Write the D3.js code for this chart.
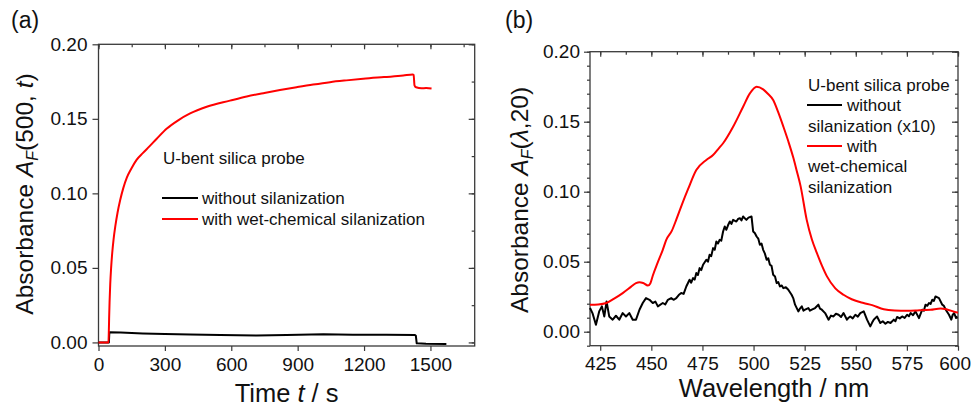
<!DOCTYPE html>
<html>
<head>
<meta charset="utf-8">
<script src="https://cdn.jsdelivr.net/npm/d3@7"></script>
<style>
  body { margin: 0; background: #fff; }
  svg text { font-family: "Liberation Sans", Arial, sans-serif; fill: #111; }
</style>
</head>
<body>
<svg id="chart" width="971" height="409"></svg>
<script>
// ---- Panel (a): absorbance at 500 nm versus time ----
const timeTicks = [0, 300, 600, 900, 1200, 1500];
const timeMinorTicks = d3.range(0, 1700, 150);
const absTicksA = [0, 0.05, 0.10, 0.15, 0.20];
const absMinorTicksA = d3.range(0, 0.2001, 0.025);

// [time (s), absorbance]
const kineticsWithSilane = [
  [0, 0], [45, 0], [46.5, 0.006], [48, 0.016], [50, 0.027], [53, 0.039], [57, 0.05],
  [62, 0.06], [68, 0.069], [76, 0.078], [86, 0.087], [98, 0.0955], [112, 0.1035],
  [128, 0.1105], [148, 0.1165], [172, 0.1225], [200, 0.127], [230, 0.1315],
  [262, 0.1365], [309, 0.1435], [360, 0.149], [414, 0.1536], [489, 0.1581],
  [594, 0.1622], [670, 0.165], [745, 0.1672], [820, 0.1693], [895, 0.1712],
  [970, 0.173], [1046, 0.1746], [1120, 0.1758], [1196, 0.1769], [1290, 0.178],
  [1377, 0.179], [1420, 0.1798], [1424, 0.1795], [1428, 0.1725], [1435, 0.1712],
  [1460, 0.1705], [1480, 0.1706], [1505, 0.1703]
];
const kineticsWithoutSilane = [
  [0, 0], [47, 0], [49, 0.0068], [100, 0.0066], [200, 0.006], [300, 0.0056],
  [414, 0.0053], [550, 0.005], [715, 0.0047], [850, 0.005], [1016, 0.0054],
  [1150, 0.0051], [1300, 0.0051], [1430, 0.005], [1434, 0.0045], [1438, -0.0006],
  [1480, -0.0009], [1572, -0.0011]
];

// ---- Panel (b): absorbance spectra after 20 s ----
const wavelengthTicks = [425, 450, 475, 500, 525, 550, 575, 600];
const wavelengthMinorTicks = d3.range(425, 600.1, 12.5);
const absTicksB = [0, 0.05, 0.10, 0.15, 0.20];
const absMinorTicksB = d3.range(-0.01, 0.2001, 0.01);

// [wavelength (nm), absorbance]
const spectrumWithSilane = [
  [420, 0.0193], [424, 0.0195], [428, 0.0205], [432, 0.0238], [436, 0.0276],
  [440, 0.032], [442.5, 0.0347], [444.2, 0.0354], [446, 0.0348], [448.3, 0.033],
  [449.5, 0.0345], [450.7, 0.0400], [453, 0.049], [455.6, 0.0585], [457.3, 0.0656],
  [460, 0.072], [462.2, 0.080], [465, 0.091], [468, 0.102], [472, 0.1155],
  [476.9, 0.1227], [480.2, 0.1262], [483, 0.131], [485.1, 0.1346], [490, 0.1464],
  [494.9, 0.1607], [498.2, 0.1702], [501.5, 0.175], [504.7, 0.1731], [507, 0.170],
  [509.6, 0.1655], [512, 0.157], [514.6, 0.1464], [517, 0.136], [519.5, 0.124],
  [521.1, 0.115], [523, 0.104], [526, 0.0799], [528.5, 0.066], [531, 0.0561],
  [533.5, 0.047], [535.9, 0.0395], [540, 0.031], [544, 0.0264], [548, 0.0232],
  [553.8, 0.0205], [558, 0.019], [563.7, 0.016], [569, 0.0152], [575.2, 0.015],
  [580, 0.0152], [586.6, 0.0157], [591.5, 0.0166], [595, 0.0157], [599.7, 0.0138],
  [600, 0.0138]
];
const spectrumWithoutSilane = [
  [420, 0.0169], [421.2, 0.0133], [422.9, 0.0050], [424.5, 0.0145], [425.8, 0.0181],
  [427.0, 0.0109], [428.1, 0.0216], [429.4, 0.0109], [431.1, 0.0086], [432.7, 0.0114],
  [434.3, 0.0086], [436.0, 0.0133], [437.6, 0.0109], [439.2, 0.0133], [440.9, 0.0086],
  [442.5, 0.0086], [444.2, 0.0157], [445.8, 0.0205], [447.4, 0.0240], [449.1, 0.0228],
  [450.7, 0.0205], [452.0, 0.0215], [453.2, 0.0181], [455.6, 0.0205], [456.8, 0.0195],
  [458.1, 0.0228], [459.7, 0.0240], [461.0, 0.0228], [462.2, 0.0240], [463.4, 0.0262],
  [464.6, 0.0276], [465.8, 0.0270], [467.1, 0.0323], [468.7, 0.0371], [469.5, 0.0350],
  [470.4, 0.0383], [471.2, 0.0372], [472.0, 0.0419], [472.8, 0.0405], [473.6, 0.0454],
  [474.4, 0.0440], [475.3, 0.0478], [476.9, 0.0514], [477.7, 0.0500], [478.5, 0.0549],
  [479.3, 0.0540], [480.2, 0.0597], [481.0, 0.0585], [481.8, 0.0644], [482.6, 0.0630],
  [483.4, 0.0656], [484.2, 0.0650], [485.1, 0.0716], [485.9, 0.0751], [486.7, 0.0728],
  [487.5, 0.0760], [488.4, 0.0787], [489.2, 0.0770], [490.0, 0.0799], [491.6, 0.0787],
  [492.4, 0.0805], [493.3, 0.0811], [494.1, 0.0795], [494.9, 0.0823], [495.7, 0.0810],
  [496.5, 0.0799], [497.5, 0.0815], [499.0, 0.0823], [499.8, 0.0716], [500.6, 0.0705],
  [501.5, 0.0680], [502.3, 0.0665], [503.1, 0.0621], [503.9, 0.0630], [504.7, 0.0585],
  [505.5, 0.0560], [506.4, 0.0514], [507.2, 0.0525], [508.0, 0.0478], [508.8, 0.0470],
  [509.6, 0.0407], [510.5, 0.0395], [511.3, 0.0347], [512.1, 0.0355], [512.9, 0.0323],
  [513.8, 0.0330], [514.6, 0.0311], [515.8, 0.0318], [517.0, 0.0300], [518.6, 0.0264],
  [519.4, 0.0240], [520.3, 0.0193], [521.9, 0.0145], [522.7, 0.0165], [523.6, 0.0181],
  [524.4, 0.0150], [525.2, 0.0157], [526.8, 0.0169], [527.6, 0.0150], [528.5, 0.0157],
  [530.1, 0.0169], [531.7, 0.0193], [532.5, 0.0165], [533.4, 0.0157], [535.0, 0.0133],
  [536.7, 0.0086], [537.9, 0.0115], [539.1, 0.0109], [540.3, 0.0128], [541.6, 0.0121],
  [542.8, 0.0105], [544.0, 0.0133], [545.7, 0.0086], [546.5, 0.0100], [547.3, 0.0109],
  [548.5, 0.0095], [549.8, 0.0121], [551.0, 0.0108], [552.2, 0.0133], [553.9, 0.0145],
  [555.5, 0.0086], [557.1, 0.0038], [558.0, 0.0065], [558.8, 0.0086], [560.4, 0.0109],
  [561.2, 0.0085], [562.0, 0.0062], [563.2, 0.0075], [564.5, 0.0057], [565.7, 0.0070],
  [567.0, 0.0062], [568.6, 0.0086], [569.4, 0.0075], [570.2, 0.0105], [571.5, 0.0095],
  [572.7, 0.0109], [573.9, 0.0098], [575.1, 0.0121], [576.0, 0.0110], [576.8, 0.0133],
  [578.0, 0.0118], [579.2, 0.0145], [580.9, 0.0097], [582.5, 0.0157], [583.3, 0.0150],
  [584.1, 0.0193], [585.0, 0.0185], [585.8, 0.0205], [586.6, 0.0198], [587.4, 0.0228],
  [588.2, 0.0220], [589.0, 0.0252], [590.7, 0.0240], [592.3, 0.0193], [593.1, 0.0185],
  [594.0, 0.0157], [595.6, 0.0121], [596.7, 0.0086], [597.4, 0.0120], [598.1, 0.0133],
  [599.0, 0.0100], [599.7, 0.0109]
];

const RED = "#ff0000", BLACK = "#000000", FRAME = "#3a3a3a";
const svg = d3.select("#chart");

// Draws a boxed panel: outward major ticks on left/bottom, inward ticks on top/right.
function framedPanel(opt) {
  const { x, y, xTicks, xMinor, yTicks, yLeftMinor, yRightMinor, xFmt, yFmt } = opt;
  const [x0, x1] = x.range(), [y0, y1] = y.range(); // y0 bottom, y1 top
  const g = svg.append("g");
  const style = sel => {
    sel.select(".domain").remove();
    sel.selectAll("line").attr("stroke", FRAME).attr("stroke-width", 1.2);
    sel.selectAll("text").attr("font-size", 19).attr("fill", "#111");
  };
  const bottom = g.append("g").attr("transform", `translate(0,${y0})`)
    .call(d3.axisBottom(x).tickValues(xTicks).tickFormat(xFmt).tickSize(5).tickPadding(opt.xPad))
    .call(style);
  g.append("g").attr("transform", `translate(${x0},0)`)
    .call(d3.axisLeft(y).tickValues(yTicks).tickFormat(yFmt).tickSize(6).tickPadding(opt.yPad))
    .call(style);
  if (yLeftMinor) {
    g.append("g").attr("transform", `translate(${x0},0)`)
      .call(d3.axisLeft(y).tickValues(yLeftMinor).tickFormat("").tickSize(3)).call(style);
  }
  g.append("g").attr("transform", `translate(0,${y1})`)
    .call(d3.axisTop(x).tickValues(xTicks).tickFormat("").tickSize(-5)).call(style);
  g.append("g").attr("transform", `translate(0,${y1})`)
    .call(d3.axisTop(x).tickValues(xMinor).tickFormat("").tickSize(-3)).call(style);
  g.append("g").attr("transform", `translate(${x1},0)`)
    .call(d3.axisRight(y).tickValues(yTicks).tickFormat("").tickSize(-6)).call(style);
  g.append("g").attr("transform", `translate(${x1},0)`)
    .call(d3.axisRight(y).tickValues(yRightMinor).tickFormat("").tickSize(-3)).call(style);
  g.append("rect").attr("x", x0).attr("y", y1).attr("width", x1 - x0).attr("height", y0 - y1)
    .attr("fill", "none").attr("stroke", FRAME).attr("stroke-width", 1.3);
  return bottom;
}

function drawSeries(x, y, data, color, curve) {
  const line = d3.line().x(d => x(d[0])).y(d => y(d[1])).curve(curve);
  svg.append("path").datum(data).attr("d", line)
    .attr("fill", "none").attr("stroke", color).attr("stroke-width", 2)
    .attr("stroke-linejoin", "round");
}

function yTitle(t, parts) {
  parts.forEach(([txt, italic, sub]) => {
    const s = t.append("tspan").text(txt);
    if (italic) s.attr("font-style", "italic");
    if (sub === 1) s.attr("font-size", 16).attr("dy", 5);
    if (sub === -1) s.attr("dy", -5);
  });
}

// ---------- panel (a) ----------
const xA = d3.scaleLinear().domain([0, 1700]).range([98.5, 474.7]);
const yA = d3.scaleLinear().domain([-0.0024, 0.20]).range([346, 44.3]);
framedPanel({
  x: xA, y: yA, xTicks: timeTicks, xMinor: timeMinorTicks, yTicks: absTicksA,
  yLeftMinor: null, yRightMinor: absMinorTicksA,
  xFmt: d3.format("d"), yFmt: d3.format(".2f"), xPad: 7, yPad: 5
});
drawSeries(xA, yA, kineticsWithoutSilane, BLACK, d3.curveLinear);
drawSeries(xA, yA, kineticsWithSilane, RED, d3.curveMonotoneX);

svg.append("text").attr("x", 11).attr("y", 28).attr("font-size", 23).text("(a)");
svg.append("text").attr("x", 286.6).attr("y", 402).attr("font-size", 25.5)
  .attr("text-anchor", "middle")
  .call(t => { t.append("tspan").text("Time ");
               t.append("tspan").attr("font-style", "italic").text("t");
               t.append("tspan").text(" / s"); });
svg.append("text").attr("transform", "translate(33,194) rotate(-90)")
  .attr("font-size", 24.5).attr("text-anchor", "middle")
  .call(t => yTitle(t, [["Absorbance "], ["A", true], ["F", true, 1], ["(500, ", false, -1], ["t", true], [")"]]));

// legend (a)
svg.append("text").attr("x", 163).attr("y", 163.5).attr("font-size", 17).text("U-bent silica probe");
[["without silanization", BLACK, 198], ["with wet-chemical silanization", RED, 219]].forEach(([label, c, yy]) => {
  svg.append("line").attr("x1", 162).attr("x2", 198).attr("y1", yy).attr("y2", yy)
    .attr("stroke", c).attr("stroke-width", 2);
  svg.append("text").attr("x", 202).attr("y", yy + 6).attr("font-size", 17).text(label);
});

// ---------- panel (b) ----------
const xB = d3.scaleLinear().domain([420, 600]).range([590, 958]);
const yB = d3.scaleLinear().domain([-0.01, 0.20]).range([345.7, 51.7]);
const bottomB = framedPanel({
  x: xB, y: yB, xTicks: wavelengthTicks, xMinor: wavelengthMinorTicks, yTicks: absTicksB,
  yLeftMinor: absMinorTicksB, yRightMinor: absMinorTicksB,
  xFmt: d3.format("d"), yFmt: d3.format(".2f"), xPad: 6, yPad: 4
});
// keep the last wavelength label inside the page edge
bottomB.selectAll(".tick text").filter(d => d === 600).attr("text-anchor", "end").attr("x", 12.5);
drawSeries(xB, yB, spectrumWithoutSilane, BLACK, d3.curveLinear);
drawSeries(xB, yB, spectrumWithSilane, RED, d3.curveMonotoneX);

svg.append("text").attr("x", 505).attr("y", 28).attr("font-size", 23).text("(b)");
svg.append("text").attr("x", 774).attr("y", 397).attr("font-size", 25.5)
  .attr("text-anchor", "middle").text("Wavelength / nm");
svg.append("text").attr("transform", "translate(528,200) rotate(-90)")
  .attr("font-size", 24.5).attr("text-anchor", "middle")
  .call(t => yTitle(t, [["Absorbance "], ["A", true], ["F", true, 1], ["(", false, -1], ["λ", true], [",20)"]]));

// legend (b)
svg.append("text").attr("x", 808).attr("y", 90.5).attr("font-size", 17).text("U-bent silica probe");
svg.append("line").attr("x1", 807).attr("x2", 842).attr("y1", 105).attr("y2", 105)
  .attr("stroke", BLACK).attr("stroke-width", 2);
svg.append("text").attr("x", 847).attr("y", 111).attr("font-size", 17).text("without");
svg.append("text").attr("x", 808).attr("y", 131.5).attr("font-size", 17).text("silanization (x10)");
svg.append("line").attr("x1", 807).attr("x2", 842).attr("y1", 146).attr("y2", 146)
  .attr("stroke", RED).attr("stroke-width", 2);
svg.append("text").attr("x", 847).attr("y", 152).attr("font-size", 17).text("with");
svg.append("text").attr("x", 808).attr("y", 172).attr("font-size", 17).text("wet-chemical");
svg.append("text").attr("x", 808).attr("y", 193).attr("font-size", 17).text("silanization");
</script>
</body>
</html>
